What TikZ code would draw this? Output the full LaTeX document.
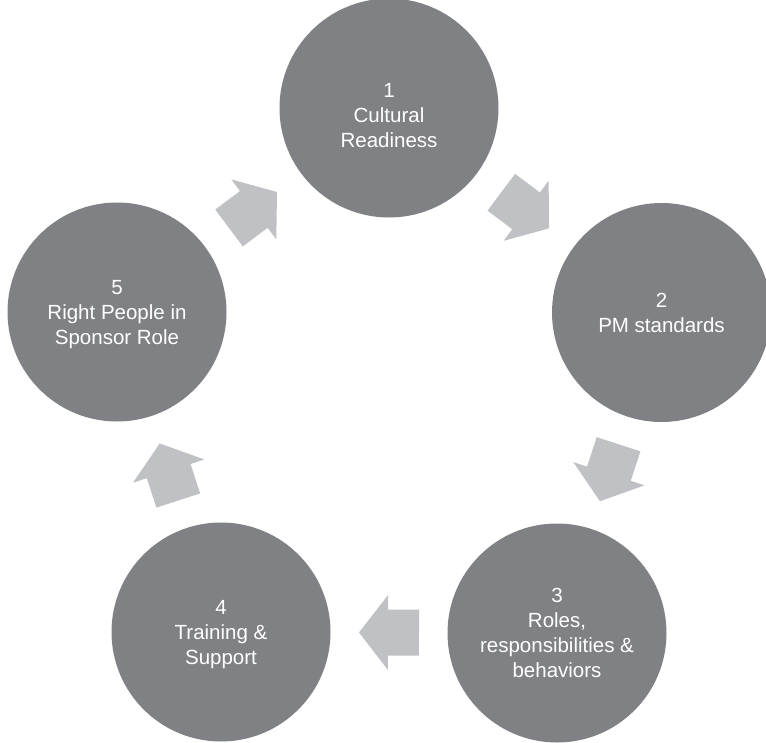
\documentclass[tikz,border=0pt]{standalone}
\usepackage{fontspec}
\setmainfont{Liberation Sans}
\usetikzlibrary{calc}
\definecolor{circgray}{HTML}{808185}
\definecolor{arrgray}{HTML}{C0C1C4}
\tikzset{
  stage/.style={circle, fill=circgray, text=white, minimum size=219pt, inner sep=0pt,
    align=center, text depth=0pt, font=\fontsize{20.5}{25}\selectfont},
  blockarrow/.style={fill=arrgray, draw=none}
}
\newcommand{\flowarrow}[2]{%
  \path ($(#1)!0.5!(#2)$) coordinate (m);
  \path ($(m)!1pt!(#2)$) coordinate (h);
  \path ($(m)!-30pt!(#2)$) coordinate (s);
  \fill[blockarrow] ($(m)!30pt!(#2)$) -- ($(h)!37.5pt!90:(#2)$) -- ($(h)!23pt!90:(#2)$)
    -- ($(s)!23pt!90:(#2)$) -- ($(s)!23pt!-90:(#2)$) -- ($(h)!23pt!-90:(#2)$)
    -- ($(h)!37.5pt!-90:(#2)$) -- cycle;
}
\begin{document}
\begin{tikzpicture}[x=1pt,y=-1pt]
\useasboundingbox (0,0) rectangle (766,742);
\node[stage] (c1) at (389,108) {\mbox{}\\[3pt]1\\Cultural\\Readiness};
\node[stage] (c2) at (661.5,312.5) {2\\PM standards};
\node[stage] (c3) at (557,633) {3\\Roles,\\responsibilities \&\\behaviors};
\node[stage] (c4) at (221,632) {4\\Training \&\\Support};
\node[stage] (c5) at (117,312) {5\\Right People in\\Sponsor Role};
\flowarrow{c1.center}{c2.center}
\flowarrow{c2.center}{c3.center}
\flowarrow{c3.center}{c4.center}
\flowarrow{c4.center}{c5.center}
\flowarrow{c5.center}{c1.center}
\end{tikzpicture}
\end{document}
